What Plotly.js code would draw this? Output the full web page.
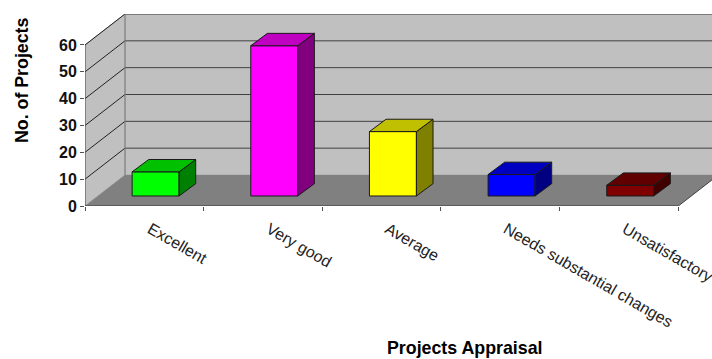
<!DOCTYPE html>
<html>
<head>
<meta charset="utf-8">
<script src="https://cdn.plot.ly/plotly-3.0.1.min.js"></script>
<style>html,body{margin:0;padding:0;background:#fff;overflow:hidden}</style>
</head>
<body>
<div id="chart" style="width:712px;height:359px"></div>
<script>
// Project appraisal counts per rating
const categories = ["Excellent", "Very good", "Average", "Needs substantial changes", "Unsatisfactory"];
const projects = [9, 56, 24, 8, 4];
const frontColors = ["#00ff00", "#ff00ff", "#ffff00", "#0000ff", "#800000"];
const topColors = ["#00c000", "#c000c0", "#c0c000", "#0000c0", "#600000"];
const sideColors = ["#008000", "#800080", "#808000", "#000080", "#400000"];
const yTicks = [0, 10, 20, 30, 40, 50, 60];

// Oblique projection, expressed in axis units
const wallDx = 0.337, wallDy = 11.55;   // floor depth
const barShiftX = 0.095, barBase = 3.73; // bar front sits part way into the floor
const barWidth = 0.396;
const barDx = 0.14, barDy = 4.6;         // bar depth
const xLeft = -0.5, xRight = 4.5, yMax = 60;

const poly = pts => "M" + pts.map(p => p[0] + "," + p[1]).join("L") + "Z";
const seg = (x0, y0, x1, y1, color, width) => ({
  type: "line", xref: "x", yref: "y", layer: "below",
  x0, y0, x1, y1, line: {color, width}
});
const face = (pts, fill, line) => ({
  type: "path", xref: "x", yref: "y", layer: "below",
  path: poly(pts), fillcolor: fill, line: line || {width: 0}
});

// Walls, floor and grid
const shapes = [
  face([[xLeft + wallDx, wallDy], [xRight + 2, wallDy], [xRight + 2, yMax + wallDy], [xLeft + wallDx, yMax + wallDy]],
       "#c0c0c0", {color: "#a8a8a8", width: 1}),
  face([[xLeft, 0], [xLeft + wallDx, wallDy], [xLeft + wallDx, yMax + wallDy], [xLeft, yMax]],
       "#c0c0c0", {color: "#a0a0a0", width: 1}),
  face([[xLeft, 0], [xRight, 0], [xRight + wallDx, wallDy], [xLeft + wallDx, wallDy]], "#808080")
];
yTicks.slice(1).forEach(v => {
  shapes.push(seg(xLeft, v, xLeft + wallDx, v + wallDy, "#222222", 1));
  shapes.push(seg(xLeft + wallDx, v + wallDy, xRight + 2, v + wallDy, "#404040", 1));
});
shapes.push(seg(xLeft + wallDx, wallDy, xLeft + wallDx, yMax + wallDy, "#808080", 1));
shapes.push(seg(xLeft, 0, xLeft, yMax, "#505050", 1));
shapes.push(seg(xLeft, 0, xRight, 0, "#505050", 1.5));
shapes.push(seg(xRight, 0, xRight + wallDx, wallDy, "#404040", 1));

// Front faces of the columns
const traces = [{
  type: "bar",
  x: categories.map((_, i) => i + barShiftX),
  y: projects,
  base: projects.map(() => barBase),
  width: barWidth,
  marker: {color: frontColors, line: {color: "#1a1a1a", width: 1}},
  hoverinfo: "y"
}];

// Top and side faces of the columns
projects.forEach((value, i) => {
  const l = i + barShiftX - barWidth / 2, r = l + barWidth;
  const b = barBase, t = barBase + value;
  const outline = (pts, fill) => traces.push({
    type: "scatter", mode: "lines", fill: "toself", fillcolor: fill,
    x: pts.map(p => p[0]).concat(pts[0][0]),
    y: pts.map(p => p[1]).concat(pts[0][1]),
    line: {color: "#1a1a1a", width: 1}, hoverinfo: "skip"
  });
  outline([[r, b], [r + barDx, b + barDy], [r + barDx, t + barDy], [r, t]], sideColors[i]);
  outline([[l, t], [r, t], [r + barDx, t + barDy], [l + barDx, t + barDy]], topColors[i]);
});

const font = "'Liberation Sans', Arial, sans-serif";
const layout = {
  width: 712, height: 359,
  margin: {l: 84.5, r: 0, t: 14, b: 153},
  paper_bgcolor: "#ffffff", plot_bgcolor: "#ffffff",
  showlegend: false,
  xaxis: {
    range: [xLeft, 4.784],
    tickmode: "array", tickvals: categories.map((_, i) => i), ticktext: categories,
    tickangle: 30, ticks: "", showgrid: false, zeroline: false, showline: false,
    ticklabelstandoff: 10, ticklabelshift: 6, ticklabeloverflow: "allow",
    tickfont: {family: font, size: 16, color: "#222222"},
    minor: {tickmode: "array", tickvals: [-0.5, 0.5, 1.5, 2.5, 3.5, 4.5], ticks: "outside", ticklen: 4, tickwidth: 1, tickcolor: "#505050", showgrid: false}
  },
  yaxis: {
    range: [0, yMax + wallDy],
    tickmode: "array", tickvals: yTicks,
    ticks: "outside", ticklen: 4, tickwidth: 1, tickcolor: "#505050",
    showgrid: false, zeroline: false, showline: false,
    tickfont: {family: font, size: 16, weight: "bold", color: "#111111"}
  },
  shapes,
  annotations: [
    {text: "<b>No. of Projects</b>", xref: "paper", yref: "paper", showarrow: false, textangle: -90,
     xanchor: "center", yanchor: "middle", font: {family: font, size: 17.8, color: "#000000"},
     x: (21 - 84.5) / 627.5, y: (206 - 80.5) / 192},
    {text: "<b>Projects Appraisal</b>", xref: "paper", yref: "paper", showarrow: false,
     xanchor: "center", yanchor: "middle", font: {family: font, size: 17.8, color: "#000000"},
     x: (464 - 84.5) / 627.5, y: (206 - 348) / 192}
  ]
};

Plotly.newPlot("chart", traces, layout, {displayModeBar: false, staticPlot: true});
</script>
</body>
</html>
